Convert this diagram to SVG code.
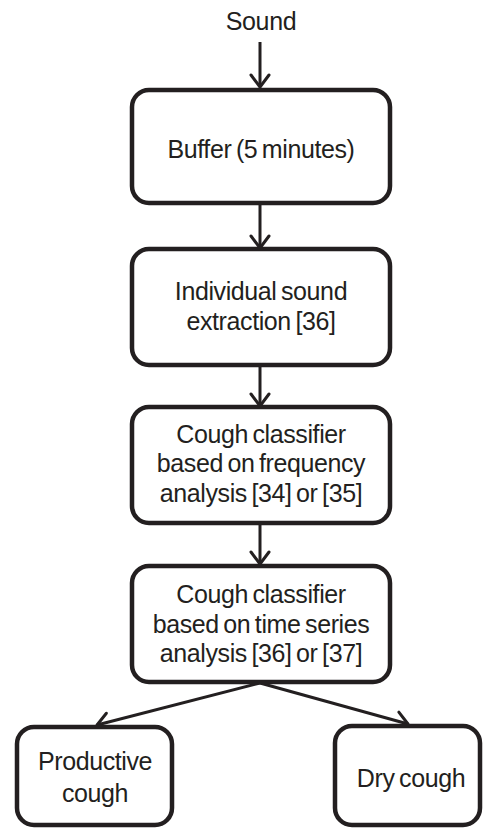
<svg xmlns="http://www.w3.org/2000/svg" width="483" height="828" viewBox="0 0 483 828">
<style>
.box{fill:#fff;stroke:#231f20;stroke-width:4.5}
.t{font-family:"Liberation Sans",Arial,sans-serif;font-size:25px;fill:#231f20;text-anchor:middle;letter-spacing:-0.4px;word-spacing:-2px}
.c{stroke:#231f20;stroke-width:3;fill:none}
</style>
<defs>
<marker id="ah" markerUnits="userSpaceOnUse" viewBox="-14 -12 16 24" refX="0" refY="0" markerWidth="16" markerHeight="24" orient="auto" overflow="visible">
<path d="M-12,-9 L0,0 L-12,9" fill="none" stroke="#231f20" stroke-width="3" stroke-linecap="round" stroke-linejoin="round"/>
</marker>
</defs>
<rect width="483" height="828" fill="#fff"/>
<g id="connectors">
<line class="c" x1="260" y1="42" x2="260" y2="87" marker-end="url(#ah)"/>
<line class="c" x1="260" y1="204" x2="260" y2="248" marker-end="url(#ah)"/>
<line class="c" x1="260" y1="366" x2="260" y2="406" marker-end="url(#ah)"/>
<line class="c" x1="260" y1="524" x2="260" y2="564" marker-end="url(#ah)"/>
<line class="c" x1="260" y1="683" x2="97" y2="725" marker-end="url(#ah)"/>
<line class="c" x1="260" y1="683" x2="408" y2="724" marker-end="url(#ah)"/>
</g>
<g id="sound"><text class="t" x="261" y="30">Sound</text></g>
<g id="buffer">
<rect class="box" x="132" y="90" width="258" height="113" rx="17"/>
<text class="t" x="261" y="158">Buffer (5 minutes)</text>
</g>
<g id="extraction">
<rect class="box" x="132" y="249" width="258" height="116" rx="17"/>
<text class="t" x="261" y="300">Individual sound</text>
<text class="t" x="261" y="330">extraction [36]</text>
</g>
<g id="freq">
<rect class="box" x="132" y="407" width="258" height="116" rx="17"/>
<text class="t" x="261" y="443">Cough classifier</text>
<text class="t" x="261" y="472">based on frequency</text>
<text class="t" x="261" y="502">analysis [34] or [35]</text>
</g>
<g id="timeseries">
<rect class="box" x="132" y="566" width="258" height="116" rx="17"/>
<text class="t" x="261" y="603">Cough classifier</text>
<text class="t" x="261" y="633">based on time series</text>
<text class="t" x="261" y="662">analysis [36] or [37]</text>
</g>
<g id="productive">
<rect class="box" x="17" y="727" width="155" height="98" rx="17"/>
<text class="t" x="95" y="770">Productive</text>
<text class="t" x="95" y="802">cough</text>
</g>
<g id="dry">
<rect class="box" x="335" y="726" width="145" height="99" rx="17"/>
<text class="t" x="411" y="787">Dry cough</text>
</g>
</svg>
